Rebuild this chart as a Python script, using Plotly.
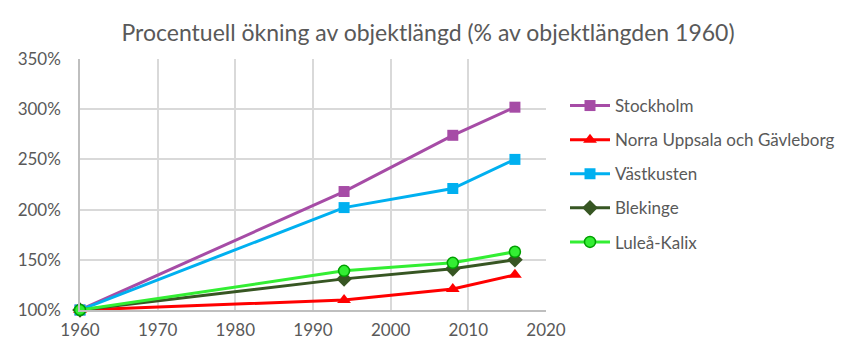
import plotly.graph_objects as go

years = [1960, 1994, 2008, 2016]
series_names = ["Stockholm", "Norra Uppsala och Gävleborg", "Västkusten", "Blekinge", "Luleå-Kalix"]
stockholm = [100, 218, 274, 302]
norra = [100, 110, 121, 135]
vastkusten = [100, 202, 221, 250]
blekinge = [100, 131, 141, 150]
lulea = [100, 139, 147, 158]
y_ticks = [100, 150, 200, 250, 300, 350]
y_tick_labels = ["100%", "150%", "200%", "250%", "300%", "350%"]
x_ticks = [1960, 1970, 1980, 1990, 2000, 2010, 2020]

values = [stockholm, norra, vastkusten, blekinge, lulea]
line_colors = ["#A64CA6", "#FF0000", "#00B0F0", "#375623", "#33EE33"]
marker_symbols = ["square", "triangle-up", "square", "diamond", "circle"]
marker_fill = ["#A64CA6", "#FF0000", "#00B0F0", "#375623", "#33EE33"]
marker_line = ["#A64CA6", "#FF0000", "#00B0F0", "#375623", "#00A000"]
marker_sizes = [11, 12, 11, 12, 11]

fig = go.Figure()
for i, (name, vals, lc, sym, mf, ml, ms) in enumerate(zip(series_names, values, line_colors, marker_symbols, marker_fill, marker_line, marker_sizes)):
    fig.add_trace(go.Scatter(
        x=years, y=vals, name=name, mode="lines+markers", legendgroup=f"g{i}",
        line=dict(color=lc, width=3), cliponaxis=False,
        marker=dict(symbol=sym, size=ms, color=mf, line=dict(color=ml, width=1.5 if name == "Luleå-Kalix" else 0)),
    ))

font_family = "Lato, 'Open Sans', sans-serif"
fig.update_layout(
    width=856, height=348,
    paper_bgcolor="white", plot_bgcolor="white",
    margin=dict(l=80, r=310, t=59, b=38),
    title=dict(text="Procentuell ökning av objektlängd (% av objektlängden 1960)",
               x=0.5, xanchor="center", y=1 - 33 / 348, yanchor="middle",
               font=dict(family=font_family, size=23, color="#595959")),
    font=dict(family=font_family, size=17, color="#595959"),
    showlegend=True,
    legend=dict(x=1.0 + 19 / 466, xanchor="left", xref="paper", y=(310 - 88) / 251, yanchor="top",
                font=dict(size=17, color="#595959"), tracegroupgap=9,
                bgcolor="rgba(0,0,0,0)", itemwidth=40),
    xaxis=dict(range=[1960, 2020], tickvals=x_ticks, showgrid=True, gridcolor="#D9D9D9", gridwidth=1.5,
               showline=True, linecolor="#BFBFBF", linewidth=1.5, zeroline=False, automargin=False,
               tickfont=dict(size=17, color="#595959"), ticks="", ticklabelstandoff=4),
    yaxis=dict(range=[100, 350], tickvals=y_ticks, ticktext=y_tick_labels, showgrid=True, gridcolor="#D9D9D9", gridwidth=1.5,
               showline=True, linecolor="#BFBFBF", linewidth=1.5, zeroline=False, automargin=False,
               tickfont=dict(size=17, color="#595959"), ticks="", ticklabelstandoff=14),
)
fig.write_html("out.html")
